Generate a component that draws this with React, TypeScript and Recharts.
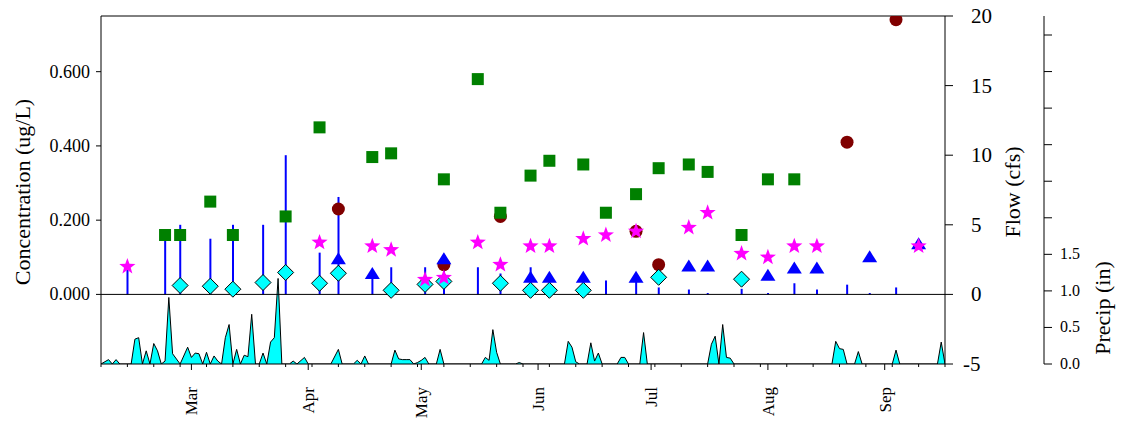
import React from "react";
import { ComposedChart, XAxis, YAxis, Bar, Area, Scatter, ReferenceLine } from "recharts";

const FONT = "'Liberation Serif', 'Times New Roman', serif";

// x axis is day of year (Feb 5 .. Sep 17)
const MONTH_DAYS = [60, 91, 121, 152, 182, 213, 244];
const MONTH_LABELS = ["Mar", "Apr", "May", "Jun", "Jul", "Aug", "Sep"];
const WEEK_DAYS = [
  36, 43, 50, 57, 64, 71, 78, 85, 92, 99, 106, 113, 120, 127, 134, 141, 148,
  155, 162, 169, 176, 183, 190, 197, 204, 211, 218, 225, 232, 239, 246, 253, 260,
];

const CONC_TICKS = [0, 0.2, 0.4, 0.6];
const FLOW_TICKS = [-5, 0, 5, 10, 15, 20];
const PRECIP_TICKS = [0, 0.5, 1, 1.5, 2, 2.5, 3, 3.5, 4, 4.5];

// flow at sampling times (cfs)
const FLOW_DAYS = [43, 53, 57, 65, 71, 79, 85, 94, 99, 108, 113, 122, 127, 136, 142, 150, 155, 164, 170, 178, 184, 192, 197, 206, 213, 220, 226, 234, 240, 247];
const FLOW_CFS = [1.95, 4.5, 5.0, 4.0, 5.0, 5.0, 10.0, 3.0, 7.0, 1.5, 1.95, 1.95, 1.95, 1.95, 1.5, 1.95, 1.3, 1.3, 1.0, 1.0, 0.5, 0.35, 0.1, 0.4, 0.1, 0.8, 0.35, 0.7, 0.1, 0.5];

// daily precipitation (in)
const PRECIP_DAYS = [36, 38, 39, 40, 41, 44, 45, 46, 47, 48, 49, 50, 51, 52, 53, 54, 55, 57, 59, 60, 61, 62, 63, 64, 65, 66, 67, 68, 69, 70, 71, 72, 73, 74, 75, 76, 77, 78, 79, 80, 81, 82, 83, 84, 86, 87, 88, 90, 91, 97, 99, 100, 103, 104, 105, 106, 107, 113, 114, 115, 116, 117, 118, 119, 120, 121, 122, 123, 125, 126, 127, 137, 138, 139, 140, 141, 142, 146, 147, 148, 159, 160, 161, 162, 163, 165, 166, 167, 168, 169, 173, 174, 175, 176, 179, 180, 181, 197, 198, 199, 200, 201, 202, 203, 204, 230, 231, 232, 233, 234, 236, 237, 238, 246, 247, 248, 258, 259, 260];
const PRECIP_IN = [0, 0.06, 0, 0.06, 0, 0, 0.34, 0.36, 0, 0.18, 0, 0.28, 0.18, 0, 0.04, 0.91, 0.14, 0, 0.23, 0.09, 0.15, 0.14, 0, 0.16, 0, 0.11, 0.04, 0, 0.36, 0.54, 0, 0.2, 0, 0.12, 0.1, 0.68, 0, 0, 0.15, 0, 0.3, 0.36, 1.17, 0, 0, 0.04, 0, 0.09, 0, 0, 0.2, 0, 0, 0.05, 0, 0.11, 0, 0, 0.19, 0.07, 0.06, 0.06, 0.06, 0, 0.02, 0.05, 0.09, 0, 0, 0.2, 0, 0, 0.09, 0.05, 0.47, 0.16, 0, 0, 0.02, 0, 0, 0.31, 0.23, 0.03, 0, 0, 0.29, 0.04, 0.15, 0, 0, 0.09, 0.09, 0, 0, 0.43, 0, 0, 0.27, 0.38, 0, 0.54, 0.09, 0.08, 0, 0, 0.31, 0.21, 0.2, 0, 0, 0.17, 0, 0, 0.19, 0, 0, 0.3, 0];

// concentrations (ug/L) per analyte, [day, value]
const SQUARES: [number, number][] = [[53, 0.16], [57, 0.16], [65, 0.25], [71, 0.16], [85, 0.21], [94, 0.45], [108, 0.37], [113, 0.38], [127, 0.31], [136, 0.58], [142, 0.22], [150, 0.32], [155, 0.36], [164, 0.35], [170, 0.22], [178, 0.27], [184, 0.34], [192, 0.35], [197, 0.33], [206, 0.16], [213, 0.31], [220, 0.31]];
const CIRCLES: [number, number][] = [[99, 0.23], [127, 0.08], [142, 0.21], [178, 0.17], [184, 0.08], [234, 0.41], [247, 0.74]];
const STARS: [number, number][] = [[43, 0.075], [94, 0.14], [108, 0.13], [113, 0.12], [122, 0.04], [127, 0.045], [136, 0.14], [142, 0.08], [150, 0.13], [155, 0.13], [164, 0.15], [170, 0.16], [178, 0.17], [192, 0.18], [197, 0.22], [206, 0.11], [213, 0.1], [220, 0.13], [226, 0.13], [253, 0.13]];
const TRIANGLES: [number, number][] = [[99, 0.095], [108, 0.055], [127, 0.095], [150, 0.045], [155, 0.045], [164, 0.045], [178, 0.045], [192, 0.075], [197, 0.075], [213, 0.05], [220, 0.07], [226, 0.07], [240, 0.1], [253, 0.135]];
const DIAMONDS: [number, number][] = [[57, 0.024], [65, 0.022], [71, 0.014], [79, 0.032], [85, 0.059], [94, 0.03], [99, 0.057], [113, 0.011], [122, 0.027], [127, 0.035], [142, 0.03], [150, 0.011], [155, 0.011], [164, 0.011], [184, 0.046], [206, 0.041]];

const flowData = FLOW_DAYS.map((d, i) => ({ day: d, flow: FLOW_CFS[i] }));
const precipData = PRECIP_DAYS.map((d, i) => ({ day: d, p: PRECIP_IN[i] }));
const toPts = (arr: [number, number][]) => arr.map(([d, c]) => ({ day: d, c }));

const squareShape = (p: any) => <rect x={p.cx - 6} y={p.cy - 6} width={12} height={12} fill="#008000" />;
const circleShape = (p: any) => <circle cx={p.cx} cy={p.cy} r={6.5} fill="#800000" />;
const triangleShape = (p: any) => (
  <path d={`M${p.cx},${p.cy - 7}L${p.cx + 7.5},${p.cy + 5}L${p.cx - 7.5},${p.cy + 5}Z`} fill="#0000ff" />
);
const diamondShape = (p: any) => (
  <path d={`M${p.cx},${p.cy - 8}L${p.cx + 8},${p.cy}L${p.cx},${p.cy + 8}L${p.cx - 8},${p.cy}Z`} fill="#00ffff" stroke="#000" strokeWidth={1} />
);
const starShape = (p: any) => {
  let d = "";
  for (let i = 0; i < 10; i++) {
    const rad = i % 2 === 0 ? 8.5 : 3.5;
    const a = -Math.PI / 2 + (i * Math.PI) / 5;
    d += (i === 0 ? "M" : "L") + (p.cx + rad * Math.cos(a)).toFixed(2) + "," + (p.cy + rad * Math.sin(a)).toFixed(2);
  }
  return <path d={d + "Z"} fill="#ff00ff" />;
};

const textStyle = { fontFamily: FONT };

const DateTick = ({ x, y, payload }: any) => {
  const i = MONTH_DAYS.indexOf(payload.value);
  if (i < 0) return <line x1={x} x2={x} y1={y} y2={y + 3} stroke="#000" />;
  return (
    <g>
      <line x1={x} x2={x} y1={y} y2={y + 6} stroke="#000" />
      <text transform={`translate(${x + 6},${y + 23}) rotate(-90)`} textAnchor="end" fontSize={17} style={textStyle} fill="#000">
        {MONTH_LABELS[i]}
      </text>
    </g>
  );
};

const FlowTick = ({ x, y, payload }: any) => (
  <text x={x + (payload.value < 0 ? -8 : 0)} y={y} dy={7} textAnchor="start" fontSize={21} style={textStyle} fill="#000">
    {payload.value}
  </text>
);

const PrecipTick = ({ x, y, payload }: any) =>
  payload.value <= 1.5 ? (
    <text x={x} y={y} dy={5} textAnchor="start" fontSize={16} style={textStyle} fill="#000">
      {payload.value.toFixed(1)}
    </text>
  ) : (
    <g />
  );

const ConcTick = ({ x, y, payload }: any) => (
  <text x={x} y={y} dy={6} textAnchor="end" fontSize={18} style={textStyle} fill="#000">
    {payload.value.toFixed(3)}
  </text>
);

export default function App() {
  return (
    <div style={{ position: "absolute", left: 0, top: 0, background: "#fff", fontFamily: FONT }}>
      <ComposedChart width={1125} height={425} data={flowData} margin={{ top: 16, right: 0, bottom: 0, left: 0 }}>
        <XAxis
          dataKey="day"
          type="number"
          domain={[36, 260]}
          allowDataOverflow
          ticks={[...WEEK_DAYS, ...MONTH_DAYS].sort((a, b) => a - b)}
          interval={0}
          tickLine={false}
          tickSize={0}
          tickMargin={0}
          tick={<DateTick />}
          height={61}
          axisLine={{ stroke: "#000" }}
        />
        <YAxis
          yAxisId="conc"
          orientation="left"
          width={101}
          domain={[-0.1875, 0.75]}
          allowDataOverflow
          ticks={CONC_TICKS}
          interval={0}
          tickSize={5}
          tickMargin={6}
          tick={<ConcTick />}
          axisLine={{ stroke: "#000" }}
          tickLine={{ stroke: "#000" }}
        />
        <YAxis
          yAxisId="flow"
          orientation="right"
          width={99}
          domain={[-5, 20]}
          allowDataOverflow
          ticks={FLOW_TICKS}
          interval={0}
          tickSize={8}
          tickMargin={18}
          tick={<FlowTick />}
          axisLine={{ stroke: "#000" }}
          tickLine={{ stroke: "#000" }}
        />
        <YAxis
          yAxisId="precip"
          orientation="right"
          width={81}
          domain={[0, 4.76]}
          allowDataOverflow
          ticks={PRECIP_TICKS}
          interval={0}
          tickSize={8}
          tickMargin={8}
          tick={<PrecipTick />}
          axisLine={{ stroke: "#000" }}
          tickLine={{ stroke: "#000" }}
        />
        <Area
          data={precipData}
          dataKey="p"
          yAxisId="precip"
          type="linear"
          fill="#00ffff"
          fillOpacity={1}
          stroke="#000"
          strokeWidth={1}
          isAnimationActive={false}
        />
        <Bar dataKey="flow" yAxisId="flow" fill="#0000ff" barSize={2} isAnimationActive={false} />
        <ReferenceLine y={0} yAxisId="conc" stroke="#000" strokeWidth={1} />
        <ReferenceLine y={20} yAxisId="flow" stroke="#000" strokeWidth={1} />
        <Scatter data={toPts(CIRCLES)} dataKey="c" yAxisId="conc" shape={circleShape} isAnimationActive={false} />
        <Scatter data={toPts(SQUARES)} dataKey="c" yAxisId="conc" shape={squareShape} isAnimationActive={false} />
        <Scatter data={toPts(DIAMONDS)} dataKey="c" yAxisId="conc" shape={diamondShape} isAnimationActive={false} />
        <Scatter data={toPts(TRIANGLES)} dataKey="c" yAxisId="conc" shape={triangleShape} isAnimationActive={false} />
        <Scatter data={toPts(STARS)} dataKey="c" yAxisId="conc" shape={starShape} isAnimationActive={false} />
        <text transform="translate(22,192) rotate(-90)" textAnchor="middle" dominantBaseline="central" fontSize={22} style={textStyle} fill="#000">
          Concentration (ug/L)
        </text>
        <text transform="translate(1012,192) rotate(-90)" textAnchor="middle" dominantBaseline="central" fontSize={22} style={textStyle} fill="#000">
          Flow (cfs)
        </text>
        <text transform="translate(1102,308) rotate(-90)" textAnchor="middle" dominantBaseline="central" fontSize={22} style={textStyle} fill="#000">
          Precip (in)
        </text>
      </ComposedChart>
    </div>
  );
}
